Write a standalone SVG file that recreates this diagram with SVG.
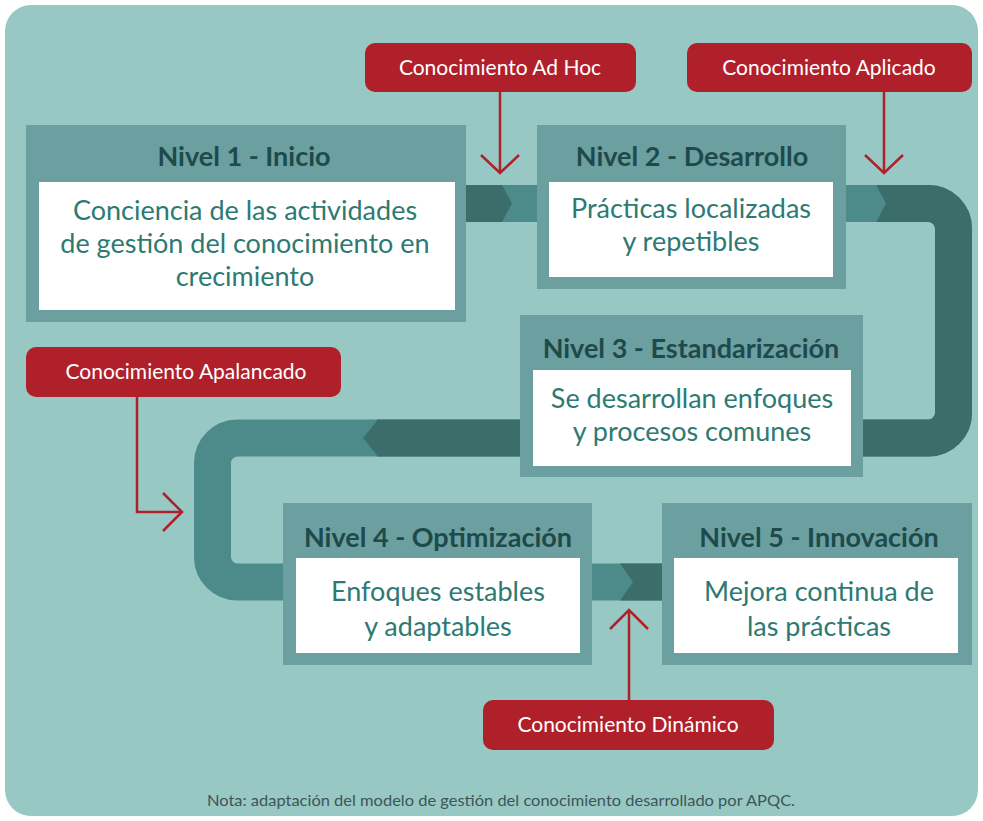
<svg xmlns="http://www.w3.org/2000/svg" width="983" height="821" viewBox="0 0 983 821">
<defs>
<style>
.bg{fill:#98c8c4}
.box{fill:#6b9fa0}
.inner{fill:#ffffff}
.title{font-family:Lato,"Liberation Sans",sans-serif;font-weight:bold;font-size:27px;fill:#1e4a4b;text-anchor:middle}
.body{font-family:Lato,"Liberation Sans",sans-serif;font-size:27px;fill:#2d7a74;text-anchor:middle}
.tag{fill:#b0202b}
.tagtext{font-family:Lato,"Liberation Sans",sans-serif;font-size:21px;fill:#ffffff;text-anchor:middle}
.pipe-light{fill:none;stroke:#4d8b8a;stroke-width:37}
.pipe-dark{fill:none;stroke:#3b6d6b;stroke-width:37}
.dark{fill:#3b6d6b}
.light{fill:#4d8b8a}
.red{fill:none;stroke:#b0202b;stroke-width:2.5}
.note{font-family:Lato,"Liberation Sans",sans-serif;font-size:16px;fill:#3d5656;text-anchor:middle}
</style>
</defs>
<rect x="5" y="5" width="973" height="811" rx="26" class="bg"/>

<g id="connectors">
<rect x="460" y="185" width="85" height="37" class="light"/>
<polygon points="460,185 502,185 512,203.5 502,222 460,222" class="dark"/>
<path d="M 840 203.5 H 928.5 A 25 25 0 0 1 953.5 228.5 V 413 A 25 25 0 0 1 928.5 438 H 237.5 A 25 25 0 0 0 212.5 463 V 557 A 25 25 0 0 0 237.5 582 H 670" class="pipe-light"/>
<path d="M 877 203.5 H 928.5 A 25 25 0 0 1 953.5 228.5 V 413 A 25 25 0 0 1 928.5 438 H 377" class="pipe-dark"/>
<polygon points="876,185 886,203.5 876,222" class="light"/>
<polygon points="378,419.5 363,438 378,456.5" class="dark"/>
<polygon points="620,563.5 670,563.5 670,600.5 620,600.5 633,582" class="dark"/>

<path d="M 500 92 V 172" class="red"/>
<path d="M 481 155 L 500 173 L 519 155" class="red"/>
<path d="M 884 92 V 172" class="red"/>
<path d="M 865 155 L 884 173 L 903 155" class="red"/>
<path d="M 137 397 V 512 H 181" class="red"/>
<path d="M 163 493 L 182 512 L 163 531" class="red"/>
<path d="M 629 700 V 611" class="red"/>
<path d="M 610 629 L 629 610 L 648 629" class="red"/>
</g>

<g id="nivel1">
<rect x="26" y="125" width="440" height="197" class="box"/>
<rect x="39" y="182" width="416" height="128" class="inner"/>
<text x="244" y="166" class="title">Nivel 1 - Inicio</text>
<text x="245" y="220" class="body">Conciencia de las actividades</text>
<text x="245" y="253" class="body">de gestión del conocimiento en</text>
<text x="245" y="286" class="body">crecimiento</text>
</g>

<g id="nivel2">
<rect x="537" y="125" width="309" height="164" class="box"/>
<rect x="549" y="182" width="284" height="95" class="inner"/>
<text x="692" y="166" class="title">Nivel 2 - Desarrollo</text>
<text x="691" y="218" class="body">Prácticas localizadas</text>
<text x="691" y="251" class="body">y repetibles</text>
</g>

<g id="nivel3">
<rect x="520" y="315" width="343" height="162" class="box"/>
<rect x="533" y="370" width="318" height="96" class="inner"/>
<text x="691" y="358" class="title">Nivel 3 - Estandarización</text>
<text x="692" y="408" class="body">Se desarrollan enfoques</text>
<text x="692" y="441" class="body">y procesos comunes</text>
</g>

<g id="nivel4">
<rect x="283" y="503" width="309" height="162" class="box"/>
<rect x="296" y="558" width="284" height="95" class="inner"/>
<text x="438" y="547" class="title">Nivel 4 - Optimización</text>
<text x="438" y="601" class="body">Enfoques estables</text>
<text x="438" y="636" class="body">y adaptables</text>
</g>

<g id="nivel5">
<rect x="662" y="503" width="310" height="162" class="box"/>
<rect x="674" y="558" width="284" height="95" class="inner"/>
<text x="819" y="547" class="title">Nivel 5 - Innovación</text>
<text x="819" y="601" class="body">Mejora continua de</text>
<text x="819" y="636" class="body">las prácticas</text>
</g>

<g id="tag-adhoc">
<rect x="365" y="43" width="271" height="49" rx="10" class="tag"/>
<text x="500" y="75" class="tagtext">Conocimiento Ad Hoc</text>
</g>
<g id="tag-aplicado">
<rect x="687" y="43" width="285" height="49" rx="10" class="tag"/>
<text x="829" y="75" class="tagtext">Conocimiento Aplicado</text>
</g>
<g id="tag-apalancado">
<rect x="26" y="347" width="315" height="50" rx="10" class="tag"/>
<text x="186" y="379" class="tagtext">Conocimiento Apalancado</text>
</g>
<g id="tag-dinamico">
<rect x="483" y="700" width="291" height="50" rx="10" class="tag"/>
<text x="628" y="732" class="tagtext">Conocimiento Dinámico</text>
</g>

<text x="501" y="806" class="note" textLength="588" lengthAdjust="spacingAndGlyphs">Nota: adaptación del modelo de gestión del conocimiento desarrollado por APQC.</text>
</svg>
